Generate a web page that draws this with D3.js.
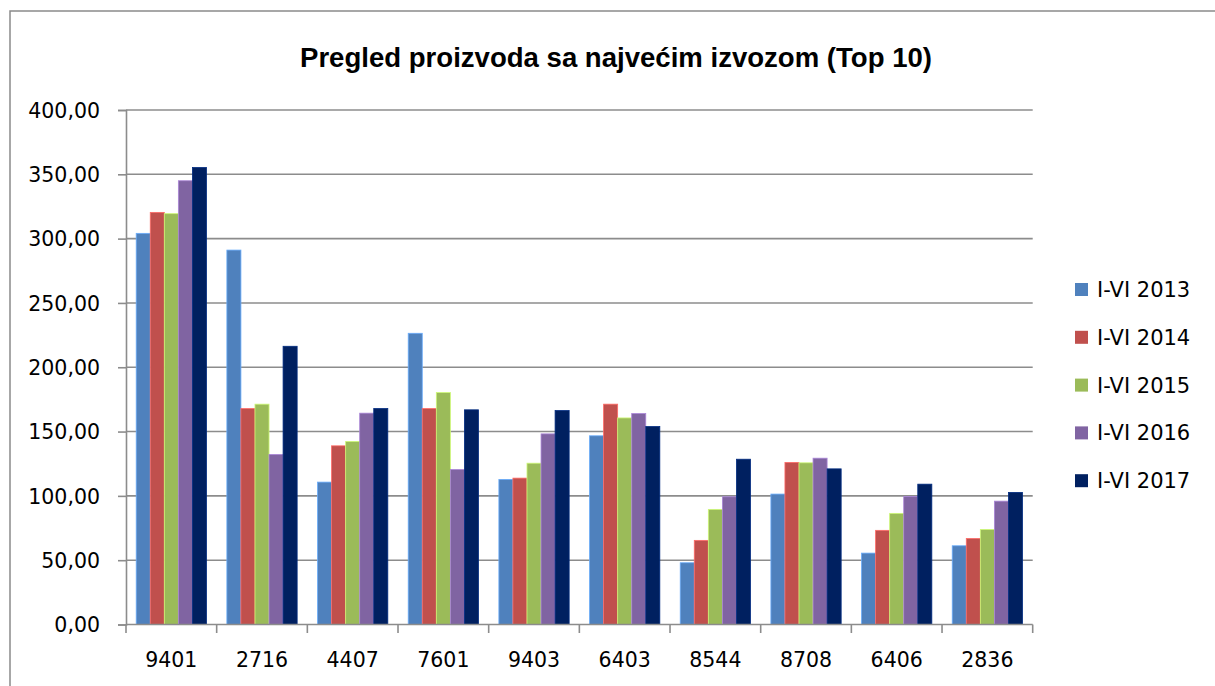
<!DOCTYPE html>
<html><head><meta charset="utf-8">
<script src="https://cdn.jsdelivr.net/npm/d3@7"></script>
<style>html,body{margin:0;padding:0;background:#fff;}svg{display:block;}</style>
</head><body>
<svg id="c" width="1215" height="686"></svg>
<script>
const categories = ["9401","2716","4407","7601","9403","6403","8544","8708","6406","2836"];
const seriesNames = ["I-VI 2013","I-VI 2014","I-VI 2015","I-VI 2016","I-VI 2017"];
const v2013 = [304.1,291.1,110.7,226.4,112.8,146.7,48.0,101.4,55.5,61.2];
const v2014 = [320.4,167.9,138.9,167.9,113.8,171.3,65.4,126.0,73.2,66.9];
const v2015 = [319.4,171.3,142.3,180.3,125.4,160.6,89.5,125.7,86.4,73.9];
const v2016 = [345.0,132.2,164.3,120.5,148.2,164.0,99.3,129.3,99.5,95.9];
const v2017 = [355.3,216.3,167.9,166.9,166.3,153.9,128.5,121.0,109.1,102.7];
const yTicks = [0,50,100,150,200,250,300,350,400];
const colors = ["#4F81BD","#C0504D","#9BBB59","#8064A2","#002060"];
const title = "Pregled proizvoda sa najvećim izvozom (Top 10)";

const values = [v2013,v2014,v2015,v2016,v2017];
const svg = d3.select("#c");
const font = "'DejaVu Sans', sans-serif";

// outer border
svg.append("path").attr("d","M10,686 L10,11 L1215,11")
  .attr("fill","none").attr("stroke","#8a8a8a").attr("stroke-width",1.5);

const x0 = d3.scaleBand().domain(categories).range([126,1032.7]).paddingInner(0.225).paddingOuter(0.1125);
const x1 = d3.scaleBand().domain(seriesNames).range([0,x0.bandwidth()]);
const y = d3.scaleLinear().domain([0,400]).range([624.5,110]);

// gridlines
svg.append("g").selectAll("line").data(yTicks.filter(d=>d>0)).join("line")
  .attr("x1",126).attr("x2",1032.7).attr("y1",d=>y(d)).attr("y2",d=>y(d))
  .attr("stroke","#8c8c8c").attr("stroke-width",1.6);

// bars
const g = svg.append("g");
categories.forEach((c,i)=>{
  seriesNames.forEach((s,j)=>{
    g.append("rect")
      .attr("x",x0(c)+x1(s)).attr("width",x1.bandwidth())
      .attr("y",y(values[j][i])).attr("height",y(0)-y(values[j][i]))
      .attr("fill",colors[j])
      .attr("stroke",d3.color(colors[j]).brighter(0.8)).attr("stroke-width",0.8);
  });
});

// y axis
const fmt = d => d3.format(".2f")(d).replace(".",",");
const yAxis = svg.append("g").attr("transform","translate(126,0)")
  .call(d3.axisLeft(y).tickValues(yTicks).tickSize(8).tickPadding(18).tickFormat(fmt));
yAxis.select(".domain").attr("stroke","#8c8c8c").attr("stroke-width",1.6);
yAxis.selectAll(".tick line").attr("stroke","#8c8c8c").attr("stroke-width",1.6);
yAxis.selectAll("text").attr("font-family",font).attr("font-size","20.5px").attr("fill","#000").attr("dy","0.35em");

// x axis
const xTickScale = d3.scaleLinear().domain([0,categories.length]).range([126,1032.7]);
const xAxisG = svg.append("g");
xAxisG.append("line").attr("x1",126).attr("x2",1032.7).attr("y1",y(0)).attr("y2",y(0))
  .attr("stroke","#8c8c8c").attr("stroke-width",1.6);
xAxisG.selectAll("line.t").data(d3.range(categories.length+1)).join("line").attr("class","t")
  .attr("x1",d=>xTickScale(d)).attr("x2",d=>xTickScale(d)).attr("y1",y(0)).attr("y2",y(0)+8.5)
  .attr("stroke","#8c8c8c").attr("stroke-width",1.6);
xAxisG.selectAll("text").data(categories).join("text")
  .attr("x",d=>x0(d)+x0.bandwidth()/2).attr("y",667)
  .attr("text-anchor","middle").attr("font-family",font).attr("font-size","20.5px").attr("fill","#000")
  .text(d=>d);

// title
svg.append("text").attr("x",616).attr("y",67).attr("text-anchor","middle")
  .attr("font-family","'Liberation Sans', Arial, sans-serif").attr("font-weight","bold")
  .attr("font-size","27px").attr("fill","#000")
  .attr("textLength",632).attr("lengthAdjust","spacingAndGlyphs")
  .text(title);

// legend
const leg = svg.append("g");
seriesNames.forEach((s,j)=>{
  const cy = 289.5 + j*47.8;
  leg.append("rect").attr("x",1075).attr("y",cy-6.5).attr("width",13).attr("height",13).attr("fill",colors[j]);
  leg.append("text").attr("x",1097).attr("y",cy).attr("dy","0.36em")
    .attr("font-family",font).attr("font-size","21px").attr("fill","#000").text(s);
});
</script>
</body></html>
